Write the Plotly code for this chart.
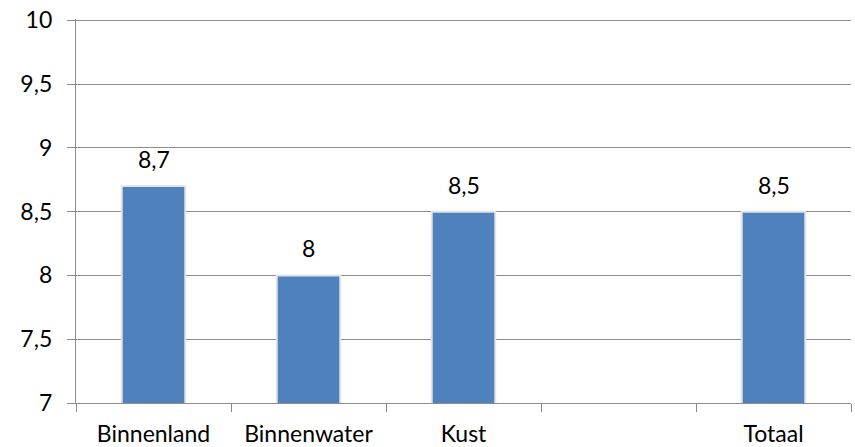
import plotly.graph_objects as go

categories = ["Binnenland", "Binnenwater", "Kust", " ", "Totaal"]
values = [8.7, 8.0, 8.5, None, 8.5]
labels = ["8,7", "8", "8,5", "", "8,5"]
y_ticks = [7, 7.5, 8, 8.5, 9, 9.5, 10]
y_tick_text = ["7", "7,5", "8", "8,5", "9", "9,5", "10"]

FONT = "Lato, Carlito, Open Sans, sans-serif"
FS = 23

fig = go.Figure()
fig.add_trace(go.Bar(
    x=categories, y=values,
    marker=dict(color="#4F81BD", line=dict(color="#E4E4E4", width=2)),
    width=0.41,
))
for c, v, t in zip(categories, values, labels):
    if v is None:
        continue
    fig.add_annotation(x=c, y=v, text=t, showarrow=False, yanchor="bottom",
                       yshift=11, font=dict(size=FS, family=FONT, color="black"))

fig.update_layout(
    width=855, height=447,
    margin=dict(l=76, r=4, t=19, b=44),
    paper_bgcolor="white", plot_bgcolor="white",
    showlegend=False,
    font=dict(family=FONT, size=FS, color="black"),
)
fig.update_yaxes(
    range=[7, 10.01], tickvals=y_ticks, ticktext=y_tick_text,
    showgrid=True, gridcolor="#8C8C8C", gridwidth=1.3,
    showline=True, linecolor="#8C8C8C", linewidth=1.3,
    ticks="outside", ticklen=8, tickcolor="#8C8C8C", tickwidth=1.3,
    zeroline=False, ticklabelstandoff=10, automargin=False,
    ticklabeloverflow="allow",
    tickfont=dict(size=FS, family=FONT),
)
fig.update_xaxes(
    type="category", tickson="boundaries",
    showline=True, linecolor="#8C8C8C", linewidth=1.3,
    ticks="outside", ticklen=8, tickcolor="#8C8C8C", tickwidth=1.3,
    showgrid=False, ticklabelstandoff=10, automargin=False,
    ticklabeloverflow="allow",
    tickfont=dict(size=FS, family=FONT),
)
fig.write_html(
    "out.html",
    config={"displayModeBar": False},
    post_script="document.body.style.margin='0';document.body.style.overflow='hidden';",
)
